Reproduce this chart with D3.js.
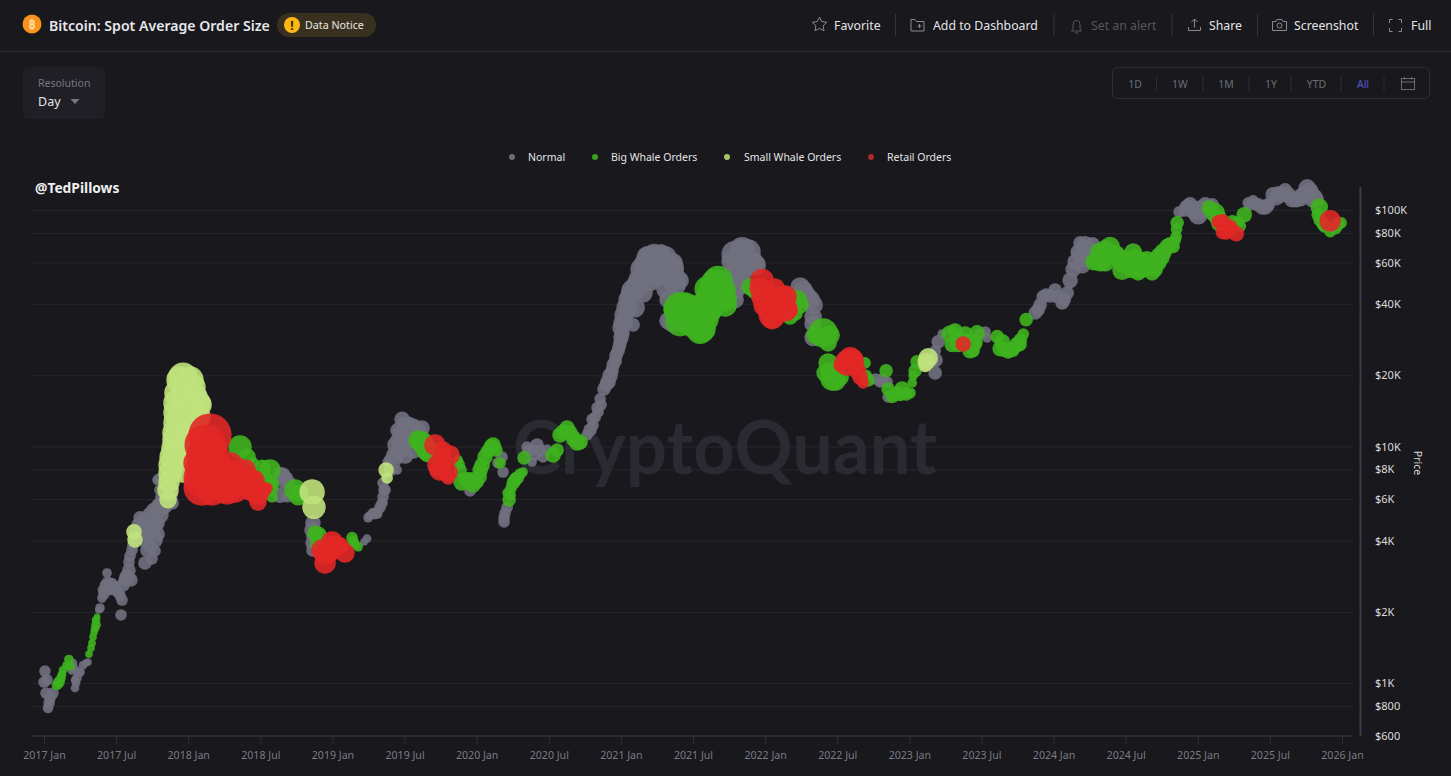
<!DOCTYPE html>
<html><head><meta charset="utf-8">
<script src="https://d3js.org/d3.v7.min.js"></script>
<style>
html,body{margin:0;padding:0;background:#18181d;overflow:hidden}
svg{display:block;font-family:"Noto Sans",sans-serif}
.xa .domain,.ya .domain{display:none}
</style></head><body><div id="c"></div>
<script>
// [year position, price in USD, bubble size]
const normalOrders=[
[2017.007,1124,5],[2017.0,1010,5],[2017.014,907,5],[2017.021,1030,5],[2017.042,864,5],[2017.062,907,5],[2017.035,823,5],[2017.028,784,4.5],
[2017.194,1135,4],[2017.201,1215,3.5],[2017.208,1160,3.5],[2017.229,1050,4],[2017.215,953,3.5],[2017.215,1030,3.5],[2017.222,1000,3.5],[2017.236,1113,4],[2017.25,1113,4],[2017.27,1190,3.5],[2017.291,1215,3],[2017.305,1227,3],
[2017.381,2036,3],[2017.388,2076,4],[2017.402,2287,4],[2017.409,2480,4.5],[2017.416,2380,5],[2017.423,2600,4.5],[2017.437,2675,4.5],[2017.437,2918,4],[2017.451,2650,5],[2017.458,2480,4.5],[2017.472,2648,4.5],[2017.479,2480,5],[2017.492,2550,5],[2017.513,2425,5],[2017.527,2350,5],[2017.541,2244,5],[2017.534,1940,5],[2017.548,2600,6],[2017.562,2725,6],[2017.576,2810,7],[2017.589,3000,6],[2017.603,2725,6],[2017.589,3250,5],[2017.596,3440,5],[2017.61,3650,5],[2017.617,3830,5],[2017.624,4030,5],[2017.631,4260,6],[2017.638,4440,6],[2017.652,4650,6],[2017.666,5000,6],[2017.68,4440,7],[2017.693,4600,6],[2017.7,4900,7],[2017.707,4030,7],[2017.721,4200,6],[2017.721,3650,7],[2017.735,3780,6],[2017.735,5150,7],[2017.7,3217,6],[2017.749,3350,5],[2017.749,4440,7],[2017.77,3620,5],[2017.77,4030,7],[2017.77,4650,7],[2017.784,4749,7],[2017.791,4260,6],[2017.756,5400,6],[2017.804,5150,8],[2017.804,5530,9],[2017.825,5650,9],[2017.804,6550,5],[2017.804,7300,5],[2017.791,7230,5],[2017.839,6130,9],[2017.86,6200,9],[2017.874,6550,6],[2017.888,5770,6],
[2018.637,6230,7],[2018.64,7600,7],[2018.657,7550,7],[2018.671,7230,8],[2018.685,6130,5],[2018.70,7000,6],
[2018.859,4440,7],[2018.859,3908,6],[2018.865,4749,7],[2018.865,4160,6],[2018.865,3650,6],
[2019.219,3950,3],[2019.24,4080,3.5],
[2019.247,5000,4],[2019.261,5100,4],[2019.282,5234,4.5],[2019.295,5200,5],[2019.309,5234,5],[2019.33,5530,5],[2019.344,5770,5],[2019.351,6130,5],[2019.358,6550,5],[2019.365,6550,5],[2019.351,7010,5],[2019.386,8600,5],[2019.4,7960,6],[2019.42,8780,8],[2019.434,9200,8],[2019.441,10150,8],[2019.448,7960,4],[2019.469,9660,8],[2019.455,10650,7],[2019.455,11700,7],[2019.469,11410,7],[2019.483,13030,7],[2019.503,12330,8],[2019.503,10650,8],[2019.503,9200,8],[2019.524,12330,8],[2019.552,10650,8],[2019.559,9660,8],[2019.559,12090,8],[2019.587,11700,8],[2019.621,11960,7],
[2019.954,6490,5],[2020.148,8520,5],[2020.176,9030,5],[2020.183,7800,5],[2020.19,4800,5],[2020.19,5000,5],[2020.197,5234,5],[2020.211,5530,5],
[2020.35,9950,5],[2020.357,9600,5],[2020.384,9660,5],[2020.405,9200,5],[2020.419,10150,6],[2020.44,9660,5],[2020.46,9030,5],[2020.384,8600,4],[2020.488,9660,5],
[2020.766,11190,5],[2020.786,11750,6],[2020.8,13030,5],[2020.807,12300,5],[2020.821,13280,5],[2020.835,14600,5],[2020.842,14000,5],[2020.856,15900,5],[2020.863,15000,5],[2020.883,17500,6],[2020.897,18200,6],[2020.911,18750,7],[2020.925,19900,7],[2020.939,20900,6],[2020.946,22100,6],[2020.96,23000,6],[2020.967,24300,6],[2020.981,25400,6],[2020.988,26400,6],[2020.994,27420,6],[2021.001,28800,7],[2021.001,31800,8],[2021.008,30220,7],[2021.015,33320,9],[2021.022,36000,9],[2021.043,38600,10],[2021.05,41800,9],[2021.064,43800,9],[2021.078,45700,10],[2021.085,32700,6],[2021.099,38600,9],[2021.112,47300,11],[2021.133,50400,11],[2021.147,56000,11],[2021.154,44630,9],[2021.168,58400,11],[2021.189,62900,11],[2021.202,62900,11],[2021.202,50400,10],[2021.223,53200,12],[2021.23,64900,10],[2021.258,62900,11],[2021.272,56000,11],[2021.279,65900,8],[2021.306,62900,11],[2021.32,56000,16],[2021.32,46400,10],[2021.327,41800,8],[2021.327,34000,8],[2021.355,57000,11],[2021.362,59780,9],[2021.362,33700,10],[2021.376,51600,10],[2021.376,48200,10],[2021.411,50400,8],
[2021.757,42900,6],[2021.771,61000,10],[2021.792,64800,13],[2021.792,45700,9],[2021.792,41800,8],[2021.806,54230,12],[2021.827,48200,9],[2021.827,55600,12],[2021.84,67900,12],[2021.847,67000,11],[2021.861,61000,12],[2021.882,66500,12],[2021.917,59780,10],[2021.931,58500,10],
[2022.243,47300,9],[2022.264,45700,9],[2022.291,43700,8],[2022.312,41800,9],[2022.333,39700,9],[2022.333,35300,8],[2022.333,33000,8],[2022.333,28900,8],
[2022.763,19300,5],[2022.797,18750,5],[2022.811,19100,6],[2022.846,18750,5],[2022.853,16200,5],
[2023.165,22800,5],[2023.179,20470,6],[2023.179,25400,5],[2023.185,23200,6],[2023.2,27700,6],[2023.228,29900,4],[2023.491,29900,5],[2023.525,30500,5],[2023.539,28800,4],
[2023.873,36730,6],[2023.894,37900,6],[2023.907,39700,6],[2023.928,42900,6],[2023.949,43700,6],[2023.977,43300,6],[2024.011,45900,6],[2024.025,43000,6],[2024.06,40480,6],[2024.074,41800,6],[2024.095,44630,6],[2024.115,50400,7],[2024.136,56000,7],[2024.15,60400,7],[2024.171,66500,7],[2024.184,72650,6],[2024.184,64800,8],[2024.198,58700,8],[2024.219,71300,8],[2024.219,63500,10],[2024.254,64800,8],[2024.268,71300,7],
[2024.871,98300,5],[2024.905,99000,5],[2024.912,103000,5],[2024.926,104000,6],[2024.947,105100,7],[2024.968,100000,8],[2024.982,98000,7],[2025.003,95400,9],[2025.017,100000,9],[2025.052,105100,7],[2025.073,103000,7],[2025.1,105100,6],
[2025.35,107300,5],[2025.363,105100,5],[2025.384,110500,4],[2025.398,107000,5],[2025.419,105100,6],[2025.447,102000,6],[2025.468,103000,7],[2025.488,105100,6],[2025.523,116000,7],[2025.544,112600,7],[2025.558,118300,6],[2025.586,116000,7],[2025.606,121800,6],[2025.627,116000,7],[2025.655,110500,7],[2025.682,110500,7],[2025.71,112600,8],[2025.738,116000,8],[2025.759,124000,8],[2025.779,119500,8],[2025.8,112600,9],[2025.821,110500,7]];

const bigWhaleOrders=[
[2017.09,981,4.5],[2017.104,1010,5],[2017.118,1050,4],[2017.125,1090,3.5],[2017.132,1135,3.5],[2017.153,1190,3],[2017.173,1257,4],[2017.18,1180,4],
[2017.312,1326,3],[2017.326,1407,3],[2017.333,1476,3],[2017.34,1564,3],[2017.347,1643,3],[2017.354,1700,3.5],[2017.361,1761,4],[2017.361,1847,3.5],[2017.368,1903,2.5],
[2018.359,9950,11],[2018.408,9030,8],[2018.449,8520,5],[2018.512,8100,8],[2018.533,7220,8],[2018.567,7960,10],[2018.567,6740,8],[2018.581,6130,5],[2018.581,7000,6],
[2018.741,6550,10],[2018.762,6200,9],[2018.775,6360,8],
[2018.879,4300,7],[2018.9,4220,8],[2018.893,3908,6],
[2019.136,4120,5],[2019.143,3950,5],[2019.157,3850,4],[2019.178,3770,4],
[2019.593,10650,9],[2019.621,10450,10],[2019.635,10150,10],[2019.656,9660,10],[2019.67,9500,10],
[2019.871,8780,4],[2019.878,8430,5],[2019.885,7960,6],[2019.899,7080,8],[2019.926,7230,7],[2019.954,7230,7],[2019.975,6870,7],[2020.003,7080,6],[2020.017,7450,7],[2020.024,7960,7],[2020.038,8350,7],[2020.058,9030,7],[2020.072,9500,6],[2020.086,9660,6],[2020.1,9950,7],[2020.114,10150,7],[2020.134,9660,6],[2020.162,8520,5],
[2020.218,6360,5],[2020.225,5950,6],[2020.232,6250,5],[2020.239,6670,5],[2020.253,7010,6],[2020.267,7230,6],[2020.28,7360,6],[2020.301,7650,5],[2020.322,7800,4],[2020.329,8950,6],
[2020.53,9200,7],[2020.558,9660,6],[2020.578,11190,7],[2020.599,11500,7],[2020.627,11960,7],[2020.648,11410,7],[2020.669,10650,6],[2020.675,10950,6],[2020.696,10350,7],[2020.717,10450,7],
[2021.355,37900,8],[2021.411,33700,14],[2021.411,38300,16],[2021.445,39700,12],[2021.48,34400,15],[2021.515,37900,14],[2021.515,33000,14],[2021.549,31000,13],[2021.563,31500,13],[2021.584,34700,13],[2021.584,39700,12],[2021.598,37900,14],[2021.598,46400,12],[2021.619,43700,13],[2021.632,37900,10],[2021.653,48700,14],[2021.674,50400,14],[2021.688,43700,13],[2021.709,45700,12],[2021.723,41800,11],[2021.723,39700,11],
[2021.896,47300,8],[2021.931,45700,8],[2022.173,35300,7],[2022.208,36730,7],[2022.222,41800,9],[2022.243,39700,8],
[2022.347,29600,8],[2022.402,30200,14],[2022.437,27420,8],[2022.451,29600,9],[2022.416,20470,8],[2022.437,22560,9],[2022.451,20700,9],[2022.465,19300,11],[2022.486,19100,10],[2022.52,19650,8],[2022.693,22560,5],[2022.714,19100,6],[2022.7,20000,5],
[2022.839,20900,6],[2022.853,17500,6],[2022.881,16300,6],[2022.902,16500,5],[2022.916,16840,6],[2022.936,16600,6],[2022.95,17500,7],[2022.978,16700,6],[2023.005,16840,5],[2023.02,18570,4],[2023.026,19900,4],[2023.04,20900,6],[2023.054,22800,6],
[2023.283,29900,8],[2023.297,27000,7],[2023.317,30800,7],[2023.338,28200,7],[2023.338,27000,7],[2023.373,27700,8],[2023.387,29900,7],[2023.421,25400,7],[2023.421,28200,6],[2023.442,25400,6],[2023.456,27700,7],[2023.456,27000,6],[2023.47,30220,7],
[2023.609,29200,6],[2023.63,25900,7],[2023.644,27700,7],[2023.664,25700,7],[2023.685,25100,6],[2023.713,25700,7],[2023.72,25900,6],[2023.748,27000,7],[2023.768,27000,6],[2023.769,28200,6],[2023.79,29900,5],[2023.81,34400,6],
[2024.281,60400,8],[2024.309,67000,7],[2024.323,61000,10],[2024.358,60400,9],[2024.358,67900,9],[2024.392,70100,9],[2024.406,64000,8],[2024.427,64900,9],[2024.448,62900,9],[2024.475,55600,9],[2024.482,60400,10],[2024.517,60400,10],[2024.545,56000,8],[2024.552,66500,8],[2024.566,61700,10],[2024.587,54230,7],[2024.607,56000,8],[2024.614,60400,9],[2024.635,56000,7],[2024.649,61000,9],[2024.67,58700,8],[2024.684,54230,7],[2024.705,56000,7],[2024.718,60400,9],[2024.739,63500,9],[2024.76,66500,8],[2024.788,70100,7],[2024.809,71300,7],[2024.829,70100,6],[2024.843,74500,5],[2024.85,77100,5],[2024.853,83000,5],[2024.857,88280,6],
[2025.08,102000,7],[2025.121,97300,9],[2025.142,92000,8],[2025.142,87000,6],[2025.24,89100,6],[2025.281,89100,5],[2025.295,85400,5],[2025.322,95400,7],
[2025.835,95400,6],[2025.842,103000,8],[2025.849,90700,6],[2025.87,87000,6],[2025.883,85400,6],[2025.918,81000,5],[2025.953,84200,6],[2025.967,87000,6],[2025.994,88280,5]];

const smallWhaleOrders=[
[2017.624,4360,7],[2017.631,4030,7],
[2017.86,5950,8],[2017.86,6550,10],[2017.867,7100,10],[2017.874,7730,11],[2017.881,8350,12],[2017.888,9030,12],[2017.901,9800,12],[2017.908,10650,12],[2017.915,11400,13],[2017.922,12580,13],[2017.922,13900,13],[2017.922,15280,13],[2017.929,16850,13],[2017.943,19100,13],[2017.964,19650,14],[2017.964,7960,12],[2017.978,9200,12],[2017.992,14280,15],[2017.992,16200,14],[2017.992,10350,16],[2018.012,19100,13],[2018.012,12300,14],[2018.033,17850,12],[2018.047,16200,12],[2018.047,13100,12],[2018.054,10350,10],[2018.068,15280,12],[2018.082,15000,11],[2018.082,13340,10],
[2018.859,6430,12],[2018.872,5530,11],
[2019.372,7960,7],[2019.379,7360,5],
[2023.11,22000,6],[2023.117,22800,8],[2023.131,23700,9]];

const retailOrders=[
[2018.061,8520,13],[2018.082,7950,14],[2018.096,7360,18],[2018.096,6740,18],[2018.117,10150,20],[2018.137,8100,20],[2018.137,9030,21],[2018.151,11190,21],[2018.165,6550,15],[2018.186,7960,16],[2018.186,7200,18],[2018.22,7960,14],[2018.255,7010,19],[2018.269,6550,14],[2018.29,8190,14],[2018.325,7570,14],[2018.325,6550,12],[2018.359,7150,12],[2018.394,7960,10],[2018.394,6870,10],[2018.429,7360,9],[2018.429,6550,10],[2018.463,7220,9],[2018.477,6360,11],[2018.484,5830,8],[2018.512,6550,8],[2018.546,6670,5],
[2018.928,3650,10],[2018.949,3217,10],[2018.949,3490,10],[2018.969,3546,10],[2018.997,3950,10],[2019.018,3800,10],[2019.053,3800,8],[2019.087,3546,9],
[2019.711,10150,10],[2019.732,8350,10],[2019.746,7960,10],[2019.767,8780,9],[2019.767,9660,8],[2019.802,7800,9],[2019.802,7360,6],[2019.816,9200,9],
[2021.979,50400,11],[2021.965,46800,10],[2021.986,42900,11],[2022.0,39700,11],[2022.021,37900,10],[2022.035,44200,10],[2022.049,34700,10],[2022.049,36100,13],[2022.069,40000,12],[2022.069,46800,9],[2022.104,41800,12],[2022.118,42500,11],[2022.139,42900,11],[2022.139,37900,11],[2022.153,37900,10],
[2022.52,22100,6],[2022.569,22560,12],[2022.59,23500,11],[2022.61,23200,10],[2022.624,22100,8],[2022.638,21000,8],[2022.659,19650,7],[2022.68,18570,5],
[2023.373,27150,7],
[2025.142,89100,6],[2025.17,89100,7],[2025.177,81000,7],[2025.198,80000,6],[2025.205,85400,6],[2025.225,84200,7],[2025.267,79300,7],
[2025.918,90000,10]];

const seriesNames=["Normal","Big Whale Orders","Small Whale Orders","Retail Orders"];
const seriesData=[normalOrders,bigWhaleOrders,smallWhaleOrders,retailOrders];
const seriesColors=["#70707f","#3fb21f","#c0e27c","#e22826"];
const legendColors=["#6d6d7b","#38a01e","#a8c267","#a82a2a"];
const priceTicks=[600,800,1000,2000,4000,6000,8000,10000,20000,40000,60000,80000,100000];
const timeTicks=[2017,2017.5,2018,2018.5,2019,2019.5,2020,2020.5,2021,2021.5,2022,2022.5,2023,2023.5,2024,2024.5,2025,2025.5,2026];
const timeLabels=["2017 Jan","2017 Jul","2018 Jan","2018 Jul","2019 Jan","2019 Jul","2020 Jan","2020 Jul","2021 Jan","2021 Jul","2022 Jan","2022 Jul","2023 Jan","2023 Jul","2024 Jan","2024 Jul","2025 Jan","2025 Jul","2026 Jan"];
const headerItems=[["Favorite",834],["Add to Dashboard",933],["Set an alert",1091],["Share",1209],["Screenshot",1294],["Full",1411]];
const rangeItems=[["1D",1135],["1W",1180],["1M",1226],["1Y",1271],["YTD",1316.5],["All",1363]];

const W=1451,H=776,BG="#18181d";
const svg=d3.select("#c").append("svg").attr("width",W).attr("height",H);
svg.append("rect").attr("width",W).attr("height",H).attr("fill",BG);

const x=d3.scaleLinear().domain([2017,2026]).range([44,1342]);
const y=d3.scaleLog().domain([600,100000]).range([735.5,210]);
const r=d3.scaleLinear().domain([0,20]).range([0.9,20.6]);

// grid
const grid=svg.append("g").attr("class","ya").attr("transform","translate(1353,0)")
 .call(d3.axisLeft(y).tickValues(priceTicks.filter(p=>p>600)).tickSize(1321).tickFormat(""));
grid.selectAll("line").attr("stroke","#26262c");

// watermark
svg.append("text").attr("x",725).attr("y",474).attr("text-anchor","middle").attr("font-family","Lato")
 .attr("font-size",74).attr("font-weight",700).attr("fill","#2a2a32").attr("textLength",424).attr("lengthAdjust","spacingAndGlyphs").text("CryptoQuant");

// x axis
const xa=svg.append("g").attr("class","xa").attr("transform","translate(0,736)")
 .call(d3.axisBottom(x).tickValues(timeTicks).tickSize(8).tickPadding(7).tickFormat((d,i)=>timeLabels[i]));
xa.selectAll("line").attr("stroke","#2e2e35");
xa.selectAll("text").attr("fill","#7b7b83").attr("font-size",10.6).attr("font-family","'Noto Sans'");
svg.append("line").attr("x1",32).attr("x2",1353).attr("y1",736).attr("y2",736).attr("stroke","#3a3a42").attr("stroke-width",1);

// y axis
svg.append("line").attr("x1",1360.5).attr("x2",1360.5).attr("y1",187).attr("y2",736).attr("stroke","#3c3c44").attr("stroke-width",2);
const ya=svg.append("g").attr("class","ya").attr("transform","translate(1375,0)")
 .call(d3.axisRight(y).tickValues(priceTicks).tickSize(0).tickPadding(0).tickFormat(d=>d>=1000?"$"+d/1000+"K":"$"+d));
ya.selectAll("text").attr("fill","#dcdcdf").attr("font-size",11).attr("font-family","'Noto Sans'");
svg.append("text").attr("transform","translate(1414,463) rotate(90)").attr("text-anchor","middle").attr("fill","#dcdcdf").attr("font-size",10.5).text("Price");

// bubbles
seriesData.forEach((pts,i)=>{
 svg.append("g").selectAll("circle").data(pts).join("circle")
  .attr("cx",d=>x(d[0])).attr("cy",d=>y(d[1])).attr("r",d=>r(d[2]))
  .attr("fill",seriesColors[i]).attr("fill-opacity",.9);
});

// legend
const legX=[512,595,727,871];
seriesNames.forEach((n,i)=>{
 svg.append("circle").attr("cx",legX[i]).attr("cy",157).attr("r",3).attr("fill",legendColors[i]);
 svg.append("text").attr("x",legX[i]+16+(i==2?1:0)).attr("y",161).attr("fill","#e4e4e6").attr("font-size",10.5).text(n);
});
svg.append("text").attr("x",35).attr("y",193).attr("fill","#eeeeee").attr("font-size",13.8).attr("font-weight",700).text("@TedPillows");

// header
svg.append("line").attr("x1",0).attr("x2",W).attr("y1",51.5).attr("y2",51.5).attr("stroke","#2d2d33");
svg.append("circle").attr("cx",32).attr("cy",24).attr("r",9.5).attr("fill","#f7931a");
svg.append("text").attr("x",32).attr("y",28.5).attr("text-anchor","middle").attr("fill","#ffd9a0").attr("font-size",12).attr("font-weight",700).text("₿");
svg.append("text").attr("x",49).attr("y",31).attr("fill","#e6e6ea").attr("font-size",14.1).attr("font-weight",600).text("Bitcoin: Spot Average Order Size");
svg.append("rect").attr("x",277).attr("y",13).attr("width",99).attr("height",24).attr("rx",12).attr("fill","#3a3020");
svg.append("circle").attr("cx",292).attr("cy",25).attr("r",8).attr("fill","#fdb813");
svg.append("text").attr("x",292).attr("y",29.5).attr("text-anchor","middle").attr("fill","#2a2208").attr("font-size",12).attr("font-weight",700).text("!");
svg.append("text").attr("x",305).attr("y",29).attr("fill","#e6e6e0").attr("font-size",10.7).text("Data Notice");

headerItems.forEach((h,i)=>{
 svg.append("text").attr("x",h[1]).attr("y",30).attr("fill",i==2?"#56565e":"#e4e4e8").attr("font-size",12.3).text(h[0]);
});
[895.5,1054,1172,1257.5,1373.5].forEach(v=>svg.append("line").attr("x1",v).attr("x2",v).attr("y1",14).attr("y2",36).attr("stroke","#333339"));
const ic=svg.append("g").attr("fill","none").attr("stroke","#8a8a92").attr("stroke-width",1);
ic.append("path").attr("d","M819.5 17l2.2 4.6 5 .7-3.6 3.5.9 5-4.5-2.4-4.5 2.4.9-5-3.6-3.5 5-.7z");
ic.append("path").attr("d","M911 19.5h4l1.5 2h7.5v9.5h-13zM917.5 26h4M919.5 24v4");
ic.append("path").attr("d","M1073 29v-5a3.5 3.5 0 017 0v5l1.5 2h-10zM1075 33h3").attr("stroke","#56565e");
ic.append("path").attr("d","M1188.5 27v3.5h12V27M1194.5 27.5V19M1191.5 22l3-3 3 3");
ic.append("path").attr("d","M1272.5 21.5h3.5l1-2h5l1 2h3.5v9h-14z");
ic.append("circle").attr("cx",1279.5).attr("cy",25.5).attr("r",2.5);
ic.append("path").attr("d","M1389.5 23v-3.5h3M1398.5 19.5h3v3.5M1401.5 28v3.5h-3M1392.5 31.5h-3V28");

// resolution box
svg.append("rect").attr("x",23).attr("y",67).attr("width",82).attr("height",52).attr("rx",5).attr("fill","#1f1f25");
svg.append("text").attr("x",38).attr("y",87).attr("fill","#77777f").attr("font-size",10.5).text("Resolution");
svg.append("text").attr("x",38).attr("y",106).attr("fill","#e4e4e8").attr("font-size",12.5).text("Day");
svg.append("path").attr("d","M70.5 99h9l-4.5 5z").attr("fill","#77777f");

// range box
svg.append("rect").attr("x",1112.5).attr("y",67.5).attr("width",317).attr("height",31).attr("rx",5).attr("fill","none").attr("stroke","#2f2f36");
rangeItems.forEach((t,i)=>svg.append("text").attr("x",t[1]).attr("y",88).attr("text-anchor","middle").attr("fill",i==5?"#5b55d6":"#6c6c74").attr("font-size",10.5).text(t[0]));
[1156.5,1203,1249,1291,1341,1384].forEach(v=>svg.append("line").attr("x1",v).attr("x2",v).attr("y1",76).attr("y2",91).attr("stroke","#2c2c32"));
const cal=svg.append("g").attr("fill","none").attr("stroke","#6c6c74");
cal.append("rect").attr("x",1401.5).attr("y",78.5).attr("width",13).attr("height",11);
cal.append("path").attr("d","M1401.5 82h13M1404.5 77v2.5M1411.5 77v2.5");
</script></body></html>
